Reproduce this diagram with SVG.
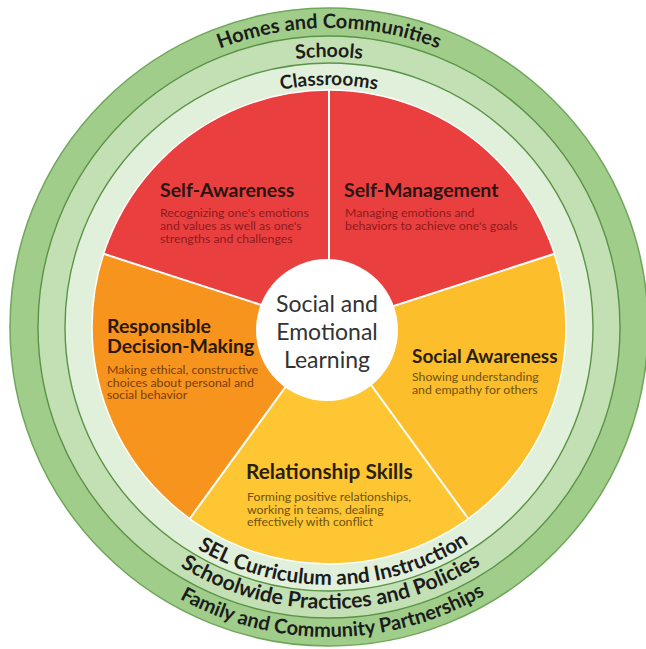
<svg xmlns="http://www.w3.org/2000/svg" width="646" height="649" viewBox="0 0 646 649">
<style>
.ringtxt{font-family:Lato,"Open Sans",sans-serif;font-weight:700;fill:#1c1c1c;}
.title{font-family:Lato,"Open Sans",sans-serif;font-weight:700;font-size:19.5px;}
.desc{font-family:Lato,"Open Sans",sans-serif;font-weight:400;font-size:12.3px;}
.center{font-family:Lato,"Open Sans",sans-serif;font-weight:400;font-size:23px;fill:#333333;text-anchor:middle;}
.ringline{fill:none;stroke:#5A9346;stroke-width:1.4;}
.divider{stroke:#ffffff;stroke-width:2;}
</style>
<defs>
<path id="topR1" d="M30,327 A299,299 0 0 1 628,327"/>
<path id="topR2" d="M59,327 A270,270 0 0 1 599,327"/>
<path id="topR3" d="M87,327 A242,242 0 0 1 571,327"/>
<path id="botR3" d="M71,327 A258,258 0 0 0 587,327"/>
<path id="botR2" d="M47,327 A282,282 0 0 0 611,327"/>
<path id="botR1" d="M19,327 A310,310 0 0 0 639,327"/>
</defs>
<rect width="646" height="649" fill="#ffffff"/>
<g id="ring-homes">
<circle cx="329" cy="327" r="319" fill="#A1CD8B" stroke="#6FA65A" stroke-width="1.5"/>
</g>
<g id="ring-schools">
<circle cx="329" cy="327" r="291" fill="#C3E0B4"/>
<circle cx="329" cy="327" r="291" class="ringline"/>
</g>
<g id="ring-classrooms">
<circle cx="329" cy="327" r="264" fill="#E1F0DA"/>
<circle cx="329" cy="327" r="264" class="ringline"/>
</g>
<g id="ring-labels">
<text class="ringtxt" style="font-size:20px"><textPath href="#topR1" startOffset="50%" text-anchor="middle">Homes and Communities</textPath></text>
<text class="ringtxt" style="font-size:19.5px"><textPath href="#topR2" startOffset="50%" text-anchor="middle">Schools</textPath></text>
<text class="ringtxt" style="font-size:19px"><textPath href="#topR3" startOffset="50%" text-anchor="middle">Classrooms</textPath></text>
<text class="ringtxt" style="font-size:20.8px"><textPath href="#botR3" startOffset="50.6%" text-anchor="middle">SEL Curriculum and Instruction</textPath></text>
<text class="ringtxt" style="font-size:21.2px"><textPath href="#botR2" startOffset="50.2%" text-anchor="middle">Schoolwide Practices and Policies</textPath></text>
<text class="ringtxt" style="font-size:20px"><textPath href="#botR1" startOffset="50.4%" text-anchor="middle">Family and Community Partnerships</textPath></text>
</g>
<g id="self-management">
<path d="M329,327 L329,90 A237,237 0 0 1 554.4,253.76 Z" fill="#E9403F"/>
<text class="title" x="344" y="197" fill="#2a1414">Self-Management</text>
<text class="desc" fill="#8E1A1D"><tspan x="345" y="217">Managing emotions and</tspan><tspan x="345" y="230">behaviors to achieve one's goals</tspan></text>
</g>
<g id="social-awareness">
<path d="M329,327 L554.4,253.76 A237,237 0 0 1 468.31,518.74 Z" fill="#FDBE2B"/>
<text class="title" x="412" y="363" fill="#2a1f0c" style="font-size:19px">Social Awareness</text>
<text class="desc" fill="#6E5212"><tspan x="412" y="381">Showing understanding</tspan><tspan x="412" y="394">and empathy for others</tspan></text>
</g>
<g id="relationship-skills">
<path d="M329,327 L468.31,518.74 A237,237 0 0 1 189.69,518.74 Z" fill="#FEC633"/>
<text class="title" x="246" y="479" fill="#2a1f0c" style="font-size:20.8px">Relationship Skills</text>
<text class="desc" fill="#6E5212"><tspan x="247" y="501">Forming positive relationships,</tspan><tspan x="247" y="513.5">working in teams, dealing</tspan><tspan x="247" y="526">effectively with conflict</tspan></text>
</g>
<g id="responsible-decision-making">
<path d="M329,327 L189.69,518.74 A237,237 0 0 1 103.6,253.76 Z" fill="#F7941E"/>
<text class="title" fill="#2a1808"><tspan x="107" y="333">Responsible</tspan><tspan x="107" y="353">Decision-Making</tspan></text>
<text class="desc" fill="#7A3D0B"><tspan x="107" y="374">Making ethical, constructive</tspan><tspan x="107" y="386.5">choices about personal and</tspan><tspan x="107" y="399">social behavior</tspan></text>
</g>
<g id="self-awareness">
<path d="M329,327 L103.6,253.76 A237,237 0 0 1 329,90 Z" fill="#E9403F"/>
<text class="title" x="160" y="197" fill="#2a1414">Self-Awareness</text>
<text class="desc" fill="#8E1A1D"><tspan x="160" y="217">Recognizing one's emotions</tspan><tspan x="160" y="230">and values as well as one's</tspan><tspan x="160" y="243">strengths and challenges</tspan></text>
</g>
<g id="connectors">
<line class="divider" x1="329" y1="327" x2="329" y2="90"/>
<line class="divider" x1="329" y1="327" x2="554.4" y2="253.76"/>
<line class="divider" x1="329" y1="327" x2="468.31" y2="518.74"/>
<line class="divider" x1="329" y1="327" x2="189.69" y2="518.74"/>
<line class="divider" x1="329" y1="327" x2="103.6" y2="253.76"/>
<circle cx="329" cy="327" r="237" fill="none" stroke="#ffffff" stroke-width="1.5"/>
</g>
<g id="center">
<circle cx="327" cy="330" r="71" fill="#ffffff"/>
<text class="center"><tspan x="327" y="312">Social and</tspan><tspan x="327" y="340">Emotional</tspan><tspan x="327" y="368">Learning</tspan></text>
</g>
</svg>
